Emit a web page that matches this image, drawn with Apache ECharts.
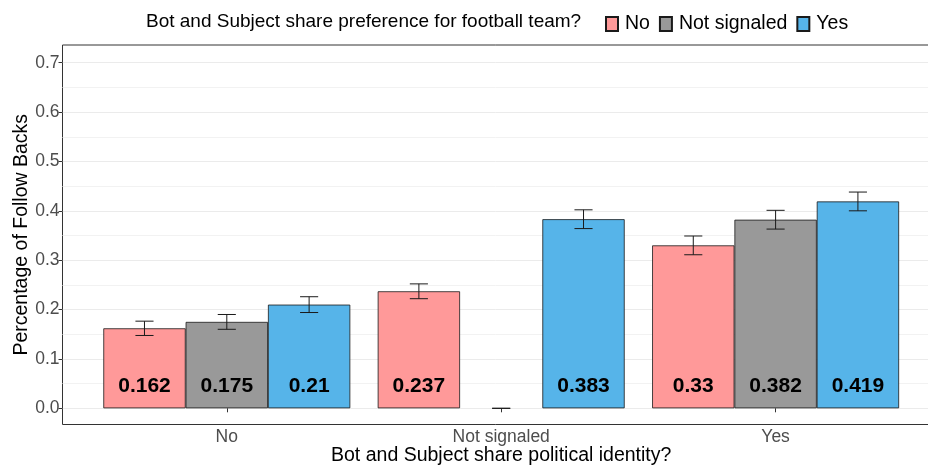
<!DOCTYPE html>
<html><head><meta charset="utf-8">
<script src="https://cdn.jsdelivr.net/npm/echarts@6/dist/echarts.min.js"></script>
<style>html,body{margin:0;padding:0;background:#fff;overflow:hidden}#c{width:928px;height:467px}</style>
</head><body><div id="c"></div>
<script>
const categories = ['No', 'Not signaled', 'Yes'];
const seriesNames = ['No', 'Not signaled', 'Yes'];
const valuesNo = [0.162, 0.237, 0.33];
const valuesNotSignaled = [0.175, 0, 0.382];
const valuesYes = [0.21, 0.383, 0.419];
const seNo = [0.0145, 0.015, 0.019];
const seNotSignaled = [0.015, 0, 0.019];
const seYes = [0.016, 0.019, 0.019];
const colors = ['#FF9999', '#999999', '#56B4E9'];

const FONT = 'Liberation Sans, Arial, sans-serif';
const allValues = [valuesNo, valuesNotSignaled, valuesYes];
const allSe = [seNo, seNotSignaled, seYes];

const barSeries = seriesNames.map((name, k) => ({
  name: name,
  type: 'bar',
  xAxisIndex: 1, yAxisIndex: 1,
  barGap: '0%', barCategoryGap: '10%',
  itemStyle: { color: colors[k], borderColor: '#1a1a1a', borderWidth: 0.8 },
  label: {
    show: true, position: 'insideBottom', distance: 12,
    fontFamily: FONT, fontWeight: 'bold', fontSize: 21, color: '#000',
    formatter: p => p.value === 0 ? '' : String(p.value)
  },
  data: allValues[k].map(v => v === 0 ? { value: 0, itemStyle: { borderWidth: 0 } } : v),
  z: 2
}));

const errData = [];
allValues.forEach((vals, k) => vals.forEach((v, i) => {
  errData.push([i, v - allSe[k][i], v + allSe[k][i], k]);
}));

const errSeries = {
  type: 'custom',
  xAxisIndex: 1, yAxisIndex: 1,
  z: 5,
  renderItem: (params, api) => {
    const ci = api.value(0), lo = api.value(1), hi = api.value(2), k = api.value(3);
    const band = api.size([1, 0])[0];
    const cx = api.coord([ci, 0])[0] + (k - 1) * band * 0.3;
    const yt = api.coord([ci, hi])[1];
    const yb = api.coord([ci, lo])[1];
    const hw = band * 0.033;
    const st = { stroke: '#1a1a1a', lineWidth: 1 };
    return {
      type: 'group',
      children: [
        { type: 'line', shape: { x1: cx, y1: yt, x2: cx, y2: yb }, style: st },
        { type: 'line', shape: { x1: cx - hw, y1: yt, x2: cx + hw, y2: yt }, style: st },
        { type: 'line', shape: { x1: cx - hw, y1: yb, x2: cx + hw, y2: yb }, style: st }
      ]
    };
  },
  data: errData
};

const chart = echarts.init(document.getElementById('c'));
chart.setOption({
  animation: false,
  textStyle: { fontFamily: FONT },
  title: {
    text: 'Bot and Subject share preference for football team?',
    left: 141, top: 7,
    textStyle: { fontFamily: FONT, fontSize: 19, fontWeight: 'normal', color: '#000' }
  },
  legend: {
    data: seriesNames,
    icon: 'rect',
    left: 600, top: 9,
    itemWidth: 12, itemHeight: 14, itemGap: 9,
    textStyle: { fontFamily: FONT, fontSize: 19.5, color: '#000', padding: [0, 0, 0, 2] }
  },
  grid: [
    { left: 62.5, top: 45, width: 878, height: 379.5, show: true, borderColor: '#333', borderWidth: 1, outerBoundsMode: 'none', containLabel: false },
    { left: 89.6, top: 62.7, width: 823.2, height: 345.6, outerBoundsMode: 'none', containLabel: false },
    { left: 62.5, top: 62.7, width: 878, height: 345.6, outerBoundsMode: 'none', containLabel: false }
  ],
  xAxis: [
    { gridIndex: 0, type: 'value', min: 0, max: 1, show: false },
    { gridIndex: 1, type: 'category', data: categories, offset: 16,
      axisLine: { show: false },
      axisTick: { show: true, alignWithLabel: true, length: 4, lineStyle: { color: '#333' } },
      axisLabel: { fontFamily: FONT, fontSize: 17.5, color: '#4D4D4D', margin: 4 },
      name: 'Bot and Subject share political identity?', nameLocation: 'middle', nameGap: 21,
      nameMoveOverlap: false,
      nameTextStyle: { fontFamily: FONT, fontSize: 19.5, color: '#000' }
    },
    { gridIndex: 2, type: 'value', min: 0, max: 1, show: false }
  ],
  yAxis: [
    { gridIndex: 0, type: 'value', min: 0, max: 1,
      axisLine: { show: false }, axisTick: { show: false }, axisLabel: { show: false }, splitLine: { show: false },
      name: 'Percentage of Follow Backs', nameLocation: 'middle', nameGap: 31, nameRotate: 90,
      nameMoveOverlap: false,
      nameTextStyle: { fontFamily: FONT, fontSize: 19.5, color: '#000' }
    },
    { gridIndex: 1, type: 'value', min: 0, max: 0.7, interval: 0.1, show: false },
    { gridIndex: 2, type: 'value', min: 0, max: 0.7, interval: 0.1,
      axisLine: { show: false },
      axisTick: { show: true, length: 4, lineStyle: { color: '#333' } },
      axisLabel: { fontFamily: FONT, fontSize: 17.5, color: '#4D4D4D', margin: 3, formatter: v => v.toFixed(1) },
      splitLine: { show: true, lineStyle: { color: '#EBEBEB', width: 1 } },
      minorTick: { show: false, splitNumber: 2 },
      minorSplitLine: { show: true, lineStyle: { color: '#F2F2F2', width: 1 } }
    }
  ],
  series: [...barSeries, errSeries]
});
</script>
</body></html>
